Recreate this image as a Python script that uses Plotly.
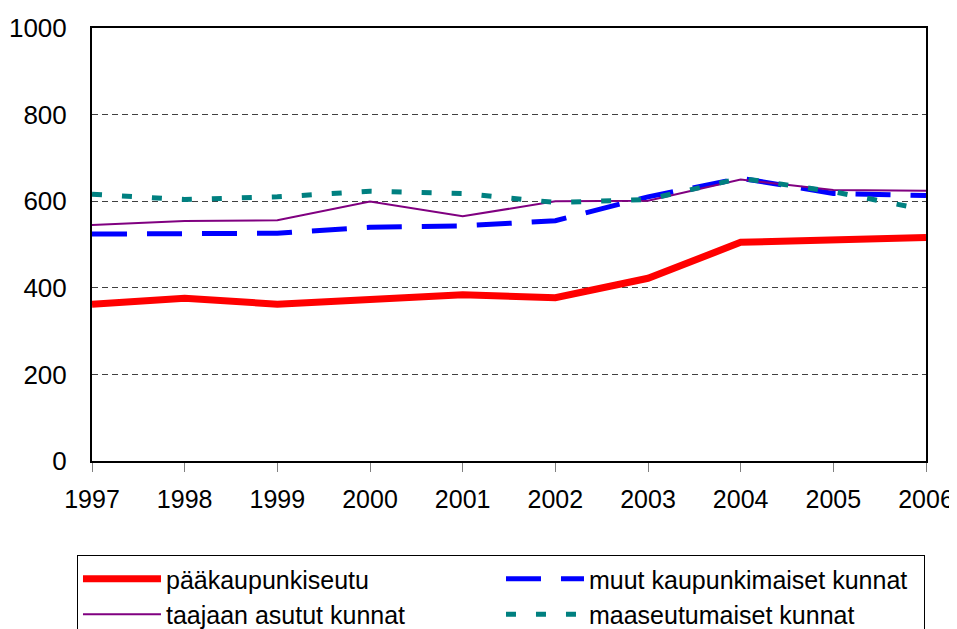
import plotly.graph_objects as go

years = [1997, 1998, 1999, 2000, 2001, 2002, 2003, 2004, 2005, 2006]
paakaupunkiseutu = [362, 376, 362, 373, 384, 377, 422, 505, 509, 516]
muut_kaupunkimaiset = [524, 526, 526, 540, 543, 555, 610, 653, 618, 613]
taajaan_asutut = [545, 554, 556, 599, 565, 600, 601, 650, 626, 624]
maaseutumaiset = [616, 604, 610, 623, 618, 597, 604, 653, 622, 580]
y_ticks = [0, 200, 400, 600, 800, 1000]

font = "Liberation Sans, Arial, sans-serif"

fig = go.Figure()
fig.add_trace(go.Scatter(x=years, y=paakaupunkiseutu, mode="lines", name="pääkaupunkiseutu",
                         line=dict(color="#FF0000", width=7)))
fig.add_trace(go.Scatter(x=years, y=muut_kaupunkimaiset, mode="lines", name="muut kaupunkimaiset kunnat",
                         line=dict(color="#0000FF", width=5, dash="35px,20px")))
fig.add_trace(go.Scatter(x=years, y=taajaan_asutut, mode="lines", name="taajaan asutut kunnat",
                         line=dict(color="#800080", width=2)))
fig.add_trace(go.Scatter(x=years, y=maaseutumaiset, mode="lines", name="maaseutumaiset kunnat",
                         line=dict(color="#008080", width=5, dash="10px,20px")))

fig.update_layout(
    width=949, height=621,
    margin=dict(l=84, r=31, t=20, b=168, autoexpand=False),
    paper_bgcolor="white", plot_bgcolor="white",
    font=dict(family=font, size=26, color="black"),
    showlegend=True,
    legend=dict(
        orientation="h", x=-0.018, xanchor="left", y=-0.2171, yanchor="top",
        bordercolor="black", borderwidth=1,
        entrywidth=330, entrywidthmode="pixels",
        itemwidth=78,
        font=dict(family=font, size=25, color="black"),
        traceorder="normal", tracegroupgap=0,
    ),
    xaxis=dict(
        range=[1997, 2006], tickvals=years, ticktext=[str(y) for y in years],
        showgrid=False, zeroline=False,
        showline=True, mirror=True, linecolor="black", linewidth=2,
        ticks="outside", ticklen=9, tickcolor="#808080", tickwidth=1,
        ticklabelstandoff=6, ticklabeloverflow="allow",
        tickfont=dict(family=font, size=25),
    ),
    xaxis2=dict(
        range=[1997, 2006], tickvals=years, overlaying="x", anchor="y",
        showticklabels=False, showgrid=False, zeroline=False, showline=False,
        ticks="inside", ticklen=9, tickcolor="#808080", tickwidth=1,
    ),
    yaxis=dict(
        range=[0, 1000], tickvals=y_ticks,
        showgrid=True, gridcolor="#404040", gridwidth=1, griddash="6px,4px",
        zeroline=False,
        showline=True, mirror=True, linecolor="black", linewidth=2,
        ticks="", ticklabelstandoff=18,
        tickfont=dict(family=font, size=26),
    ),
)

fig.write_html(
    "out.html",
    post_script="document.documentElement.style.overflow='hidden';document.body.style.overflow='hidden';",
)
